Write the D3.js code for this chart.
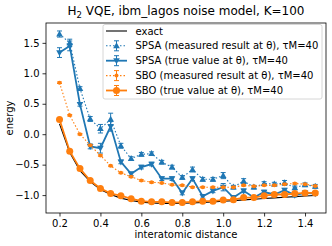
<!DOCTYPE html>
<html><head><meta charset="utf-8">
<script src="https://cdn.jsdelivr.net/npm/d3@7"></script>
<style>body{margin:0;background:#fff}svg{display:block;font-family:"DejaVu Sans",sans-serif}</style>
</head><body><svg id="c" width="332" height="246"></svg>
<script>
const distances=[0.2,0.25,0.3,0.35,0.4,0.45,0.5,0.55,0.6,0.65,0.7,0.75,0.8,0.85,0.9,0.95,1.0,1.05,1.1,1.15,1.2,1.25,1.3,1.35,1.4,1.45];
const exact=[0.17,-0.30,-0.60,-0.78,-0.91,-0.99,-1.05,-1.09,-1.115,-1.128,-1.136,-1.137,-1.134,-1.128,-1.121,-1.111,-1.101,-1.090,-1.079,-1.068,-1.057,-1.046,-1.035,-1.025,-1.015,-1.006];
const spsaMeasured=[1.645,1.50,0.75,0.25,0.09,0.245,-0.19,-0.40,-0.33,-0.32,-0.46,-0.54,-0.71,-0.58,-0.74,-0.74,-0.68,-0.87,-0.77,-0.87,-0.81,-0.82,-0.80,-0.88,-0.83,-0.855];
const spsaMeasuredErr=[0.05,0.06,0.03,0.04,0.07,0.1,0.04,0.03,0.03,0.03,0.03,0.03,0.03,0.04,0.03,0.03,0.05,0.03,0.04,0.03,0.03,0.03,0.04,0.03,0.03,0.03];
const spsaTrue=[1.34,1.45,0.49,-0.20,-0.23,0.13,-0.455,-0.65,-0.54,-0.49,-0.73,-0.73,-0.965,-0.73,-1.02,-0.93,-0.87,-1.04,-0.93,-1.04,-0.95,-0.99,-0.92,-1.0,-0.965,-0.975];
const spsaTrueErr=[0.08,0.08,0.03,0.04,0.08,0.08,0.03,0.03,0.03,0.03,0.03,0.03,0.03,0.03,0.03,0.03,0.06,0.03,0.03,0.03,0.03,0.03,0.03,0.03,0.03,0.03];
const sboMeasured=[0.845,0.31,0.0,-0.18,-0.35,-0.52,-0.635,-0.70,-0.76,-0.79,-0.80,-0.83,-0.84,-0.87,-0.87,-0.87,-0.87,-0.87,-0.84,-0.855,-0.84,-0.84,-0.82,-0.81,-0.82,-0.85];
const sboMeasuredErr=distances.map(()=>0.012);
const sboTrue=[0.24,-0.28,-0.565,-0.76,-0.89,-0.975,-1.01,-1.06,-1.10,-1.11,-1.11,-1.12,-1.12,-1.11,-1.10,-1.10,-1.08,-1.075,-1.04,-1.04,-1.01,-0.99,-0.99,-0.975,-0.965,-0.965];
const sboTrueErr=distances.map(()=>0.01);
const xTicks=[0.2,0.4,0.6,0.8,1.0,1.2,1.4];
const yTicks=[-1.0,-0.5,0.0,0.5,1.0,1.5];
const legendLabels=["exact","SPSA (measured result at θ), τM=40","SPSA (true value at θ), τM=40","SBO (measured result at θ), τM=40","SBO (true value at θ), τM=40"];

const blue="#1f77b4", orange="#ff7f0e";
const svg=d3.select("#c");
const L=46,R=326,T=23,B=213;
const x=d3.scaleLinear().domain([0.134,1.5025]).range([L,R]);
const y=d3.scaleLinear().domain([-1.294,1.826]).range([B,T]);
const fmt=v=>d3.format(".1f")(v).replace("-","−");

// axes
const gx=svg.append("g").attr("transform",`translate(0,${B})`).call(d3.axisBottom(x).tickValues(xTicks).tickFormat(fmt).tickSize(3.5).tickPadding(3));
const gy=svg.append("g").attr("transform",`translate(${L},0)`).call(d3.axisLeft(y).tickValues(yTicks).tickFormat(fmt).tickSize(3.5).tickPadding(3));
[gx,gy].forEach(g=>{g.select(".domain").remove();g.selectAll("text").attr("font-size",10).attr("fill","#000").attr("font-family","DejaVu Sans");g.selectAll("line").attr("stroke","#000").attr("stroke-width",0.8);});

const series=[
 {vals:spsaMeasured,err:spsaMeasuredErr,color:blue,dash:"1.5,2",w:1.1,marker:"up",size:6},
 {vals:spsaTrue,err:spsaTrueErr,color:blue,dash:null,w:1.8,marker:"down",size:6},
 {vals:sboMeasured,err:sboMeasuredErr,color:orange,dash:"1.5,2",w:1.1,marker:"dot",size:4},
 {vals:sboTrue,err:sboTrueErr,color:orange,dash:null,w:1.8,marker:"circle",size:7}
];
const line=d3.line().x(d=>x(d[0])).y(d=>y(d[1]));
const plot=svg.append("g");
plot.append("path").datum(distances.map((d,i)=>[d,exact[i]])).attr("d",line).attr("fill","none").attr("stroke","#000").attr("stroke-width",1.1);

function drawMarker(g,type,cx,cy,color,size){
  if(type==="up"){const h=size;g.append("path").attr("d",`M${cx},${cy-h*0.6}L${cx+h*0.55},${cy+h*0.4}L${cx-h*0.55},${cy+h*0.4}Z`).attr("fill",color);}
  else if(type==="down"){const h=size;g.append("path").attr("d",`M${cx},${cy+h*0.6}L${cx+h*0.55},${cy-h*0.4}L${cx-h*0.55},${cy-h*0.4}Z`).attr("fill",color);}
  else if(type==="dot"){g.append("circle").attr("cx",cx).attr("cy",cy).attr("r",size/2).attr("fill",color);}
  else {g.append("circle").attr("cx",cx).attr("cy",cy).attr("r",size/2).attr("fill",color);}
}
function errbar(g,cx,y1,y2,color){
  g.append("line").attr("x1",cx).attr("x2",cx).attr("y1",y1).attr("y2",y2).attr("stroke",color).attr("stroke-width",1);
  [y1,y2].forEach(yy=>g.append("line").attr("x1",cx-2.5).attr("x2",cx+2.5).attr("y1",yy).attr("y2",yy).attr("stroke",color).attr("stroke-width",1));
}
series.forEach(s=>{
  const g=plot.append("g");
  const p=g.append("path").datum(distances.map((d,i)=>[d,s.vals[i]])).attr("d",line).attr("fill","none").attr("stroke",s.color).attr("stroke-width",s.w);
  if(s.dash)p.attr("stroke-dasharray",s.dash);
  distances.forEach((d,i)=>errbar(g,x(d),y(s.vals[i]-s.err[i]),y(s.vals[i]+s.err[i]),s.color));
  distances.forEach((d,i)=>drawMarker(g,s.marker,x(d),y(s.vals[i]),s.color,s.size));
});

// frame
svg.append("rect").attr("x",L).attr("y",T).attr("width",R-L).attr("height",B-T).attr("fill","none").attr("stroke","#000").attr("stroke-width",0.8);

// legend
const lg=svg.append("g");
lg.append("rect").attr("x",103).attr("y",24.5).attr("width",219).attr("height",74.5).attr("rx",2).attr("fill","#fff").attr("fill-opacity",0.8).attr("stroke","#ccc").attr("stroke-width",0.8);
const rowY=[31,45.8,60.7,75.6,90.5];
legendLabels.forEach((lab,i)=>{
  const yy=rowY[i];
  const g=lg.append("g");
  if(i===0){g.append("line").attr("x1",106).attr("x2",127).attr("y1",yy).attr("y2",yy).attr("stroke","#000").attr("stroke-width",1.1);}
  else{const s=series[i-1];
    const ln=g.append("line").attr("x1",106).attr("x2",127).attr("y1",yy).attr("y2",yy).attr("stroke",s.color).attr("stroke-width",s.w);
    if(s.dash)ln.attr("stroke-dasharray",s.dash);
    errbar(g,116.5,yy-5,yy+5,s.color);
    drawMarker(g,s.marker,116.5,yy,s.color,s.size);}
  g.append("text").attr("x",135.5).attr("y",yy+3.6).attr("font-size",10).attr("fill","#000").text(lab);
});

// title and labels
const title=svg.append("text").attr("x",(L+R)/2).attr("y",15).attr("text-anchor","middle").attr("font-size",12).attr("fill","#000");
title.append("tspan").text("H");
title.append("tspan").attr("font-size",8.5).attr("dy",3).text("2");
title.append("tspan").attr("dy",-3).text(" VQE, ibm_lagos noise model, K=100");
svg.append("text").attr("x",(L+R)/2).attr("y",238).attr("text-anchor","middle").attr("font-size",10).attr("fill","#000").text("interatomic distance");
svg.append("text").attr("transform",`translate(13,${(T+B)/2}) rotate(-90)`).attr("text-anchor","middle").attr("font-size",10).attr("fill","#000").text("energy");
</script></body></html>
